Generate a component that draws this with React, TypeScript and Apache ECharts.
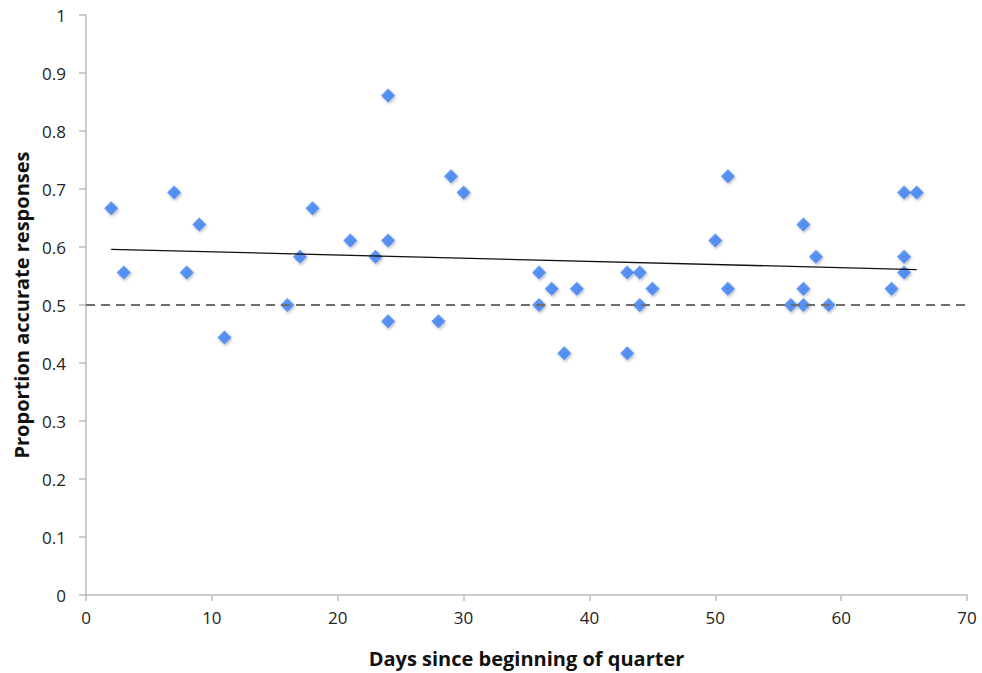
import React, { useEffect, useRef } from "react";
import * as echarts from "echarts";

const days = [2, 3, 7, 8, 9, 11, 16, 17, 18, 21, 23, 24, 24, 24, 28, 29, 30, 36, 36, 37, 38, 39, 43, 43, 44, 44, 45, 50, 51, 51, 56, 57, 57, 57, 58, 59, 64, 65, 65, 65, 66];
const proportions = [0.667, 0.556, 0.694, 0.556, 0.639, 0.444, 0.5, 0.583, 0.667, 0.611, 0.583, 0.861, 0.611, 0.472, 0.472, 0.722, 0.694, 0.556, 0.5, 0.528, 0.417, 0.528, 0.556, 0.417, 0.556, 0.5, 0.528, 0.611, 0.722, 0.528, 0.5, 0.639, 0.528, 0.5, 0.583, 0.5, 0.528, 0.694, 0.583, 0.556, 0.694];
const trendX = [2, 66];
const trendY = [0.596, 0.561];
const chanceX = [0, 70];
const chanceY = [0.5, 0.5];

const FONT = "'Open Sans', Lato, sans-serif";

export default function App() {
  const ref = useRef<HTMLDivElement>(null);
  useEffect(() => {
    if (!ref.current) return;
    const chart = echarts.init(ref.current, undefined, { renderer: "svg" });
    const axisLine = { lineStyle: { color: "#bdbdbd", width: 1.5 } };
    chart.setOption({
      animation: false,
      backgroundColor: "#ffffff",
      grid: { left: 86, top: 15, right: 15, bottom: 76, containLabel: false },
      xAxis: {
        type: "value",
        min: 0,
        max: 70,
        interval: 10,
        name: "Days since beginning of quarter",
        nameLocation: "middle",
        nameGap: 53,
        nameTextStyle: { fontFamily: FONT, fontWeight: "bold", fontSize: 20, color: "#111" },
        axisLine: { show: true, ...axisLine },
        axisTick: { show: true, length: 6, lineStyle: { color: "#bdbdbd", width: 1.5 } },
        axisLabel: { fontFamily: FONT, fontSize: 17, color: "#222", margin: 14 },
        splitLine: { show: false },
      },
      yAxis: {
        type: "value",
        min: 0,
        max: 1,
        interval: 0.1,
        name: "Proportion accurate responses",
        nameLocation: "middle",
        nameGap: 54,
        nameTextStyle: { fontFamily: FONT, fontWeight: "bold", fontSize: 20, color: "#111" },
        axisLine: { show: true, ...axisLine },
        axisTick: { show: true, length: 7, lineStyle: { color: "#bdbdbd", width: 1.5 } },
        axisLabel: { fontFamily: FONT, fontSize: 17, color: "#222", margin: 20 },
        splitLine: { show: false },
      },
      series: [
        {
          type: "scatter",
          symbol: "diamond",
          symbolSize: 14,
          data: days.map((d, i) => [d, proportions[i]]),
          itemStyle: {
            color: "#3a7ef5",
            shadowBlur: 3,
            shadowColor: "rgba(0,0,0,0.35)",
            shadowOffsetX: 1,
            shadowOffsetY: 1.5,
          },
          z: 2,
        },
        {
          type: "line",
          data: chanceX.map((x, i) => [x, chanceY[i]]),
          symbol: "none",
          lineStyle: { color: "#6e6e6e", width: 2.2, type: [9, 6] },
          z: 3,
        },
        {
          type: "line",
          data: trendX.map((x, i) => [x, trendY[i]]),
          symbol: "none",
          lineStyle: { color: "#111", width: 1.3 },
          z: 4,
        },
      ],
    });
    return () => chart.dispose();
  }, []);
  return (
    <div
      ref={ref}
      style={{ position: "fixed", left: 0, top: 0, width: 982, height: 673, background: "#fff" }}
    />
  );
}
